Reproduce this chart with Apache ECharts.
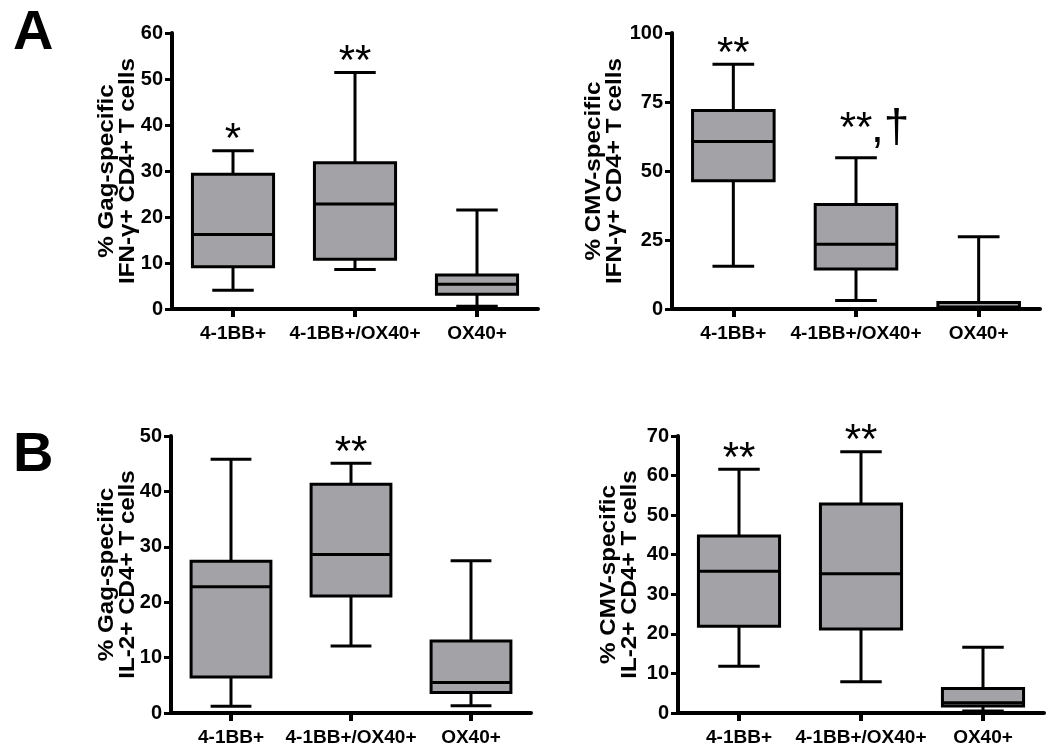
<!DOCTYPE html>
<html>
<head>
<meta charset="utf-8">
<script src="https://cdn.jsdelivr.net/npm/echarts@6/dist/echarts.min.js"></script>
<style>
html,body{margin:0;padding:0;background:#fff;}
#c{width:1050px;height:748px;}
</style>
</head>
<body>
<div id="c"></div>
<script>
// ---- data ----
const categories = ['4-1BB+', '4-1BB+/OX40+', 'OX40+'];
// [min, Q1, median, Q3, max]
const gagIfn = [[4.1, 9.2, 16.2, 29.3, 34.4], [8.6, 10.8, 22.8, 31.8, 51.4], [0.6, 3.2, 5.4, 7.4, 21.5]];
const cmvIfn = [[15.5, 46.5, 60.7, 71.9, 88.7], [3.1, 14.5, 23.5, 37.9, 54.8], [0, 0.2, 0.7, 2.4, 26.2]];
const gagIl2 = [[1.2, 6.5, 22.8, 27.4, 45.8], [12.1, 21.1, 28.6, 41.3, 45.1], [1.3, 3.7, 5.5, 13.0, 27.5]];
const cmvIl2 = [[11.8, 21.9, 35.8, 44.7, 61.6], [7.9, 21.2, 35.2, 52.8, 66.0], [0.5, 1.8, 2.6, 6.2, 16.6]];
const sigGagIfn = ['*', '**', ''];
const sigCmvIfn = ['**', '**,†', ''];
const sigGagIl2 = ['', '**', ''];
const sigCmvIl2 = ['**', '**', ''];
const yMaxes = [60, 100, 50, 70];
const yIntervals = [10, 25, 10, 10];
const yNameLine1 = ['% Gag-specific', '% CMV-specific', '% Gag-specific', '% CMV-specific'];
const yNameLine2 = ['IFN-γ+ CD4+ T cells', 'IFN-γ+ CD4+ T cells', 'IL-2+ CD4+ T cells', 'IL-2+ CD4+ T cells'];
const panelLetters = ['A', 'B'];

// ---- layout / style ----
const FONT = '"Liberation Sans", Arial, sans-serif';
const grids = [
  {left: 172, top: 33, width: 366, height: 276},
  {left: 672, top: 33, width: 368, height: 276},
  {left: 171, top: 436, width: 360, height: 277},
  {left: 678, top: 436, width: 366, height: 277}
];
const nameOffsets = [44, 57, 43, 48];
const panels = [gagIfn, cmvIfn, gagIl2, cmvIl2];
const sigs = [sigGagIfn, sigCmvIfn, sigGagIl2, sigCmvIl2];

const chart = echarts.init(document.getElementById('c'), null, {renderer: 'canvas'});

function renderBox(params, api, sigArr) {
  const xi = api.value(0);
  const mn = api.value(1), q1 = api.value(2), md = api.value(3), q3 = api.value(4), mx = api.value(5);
  const pMin = api.coord([xi, mn]);
  const pQ1 = api.coord([xi, q1]);
  const pMd = api.coord([xi, md]);
  const pQ3 = api.coord([xi, q3]);
  const pMx = api.coord([xi, mx]);
  const band = api.size([1, 0])[0];
  const cx = pMd[0];
  const bw = band * 0.665;
  const cw = band * 0.34;
  const lw = 3;
  const line = (x1, y1, x2, y2, w) => ({
    type: 'line', shape: {x1, y1, x2, y2},
    style: {stroke: '#000', lineWidth: w || lw}
  });
  const children = [
    line(cx, pQ3[1], cx, pMx[1]),
    line(cx, pQ1[1], cx, pMin[1]),
    line(cx - cw / 2, pMx[1], cx + cw / 2, pMx[1]),
    line(cx - cw / 2, pMin[1], cx + cw / 2, pMin[1]),
    {
      type: 'rect',
      shape: {x: cx - bw / 2, y: pQ3[1], width: bw, height: pQ1[1] - pQ3[1]},
      style: {fill: '#a3a3a7', stroke: '#000', lineWidth: 3}
    },
    line(cx - bw / 2, pMd[1], cx + bw / 2, pMd[1])
  ];
  const sig = sigArr[params.dataIndex];
  if (sig) {
    const parts = sig.split(',');
    const lift = parts.length > 1 ? 18 : 0;
    const ty = pMx[1] + 11 - lift;
    children.push({
      type: 'text',
      style: {
        text: parts[0], x: cx, y: ty,
        align: 'center', verticalAlign: 'bottom',
        font: '42px ' + FONT, fill: '#000'
      }
    });
    if (parts.length > 1) {
      children.push({
        type: 'text',
        style: {
          text: ',' + parts[1], x: cx + 15, y: ty + 2,
          align: 'left', verticalAlign: 'bottom',
          font: '46px ' + FONT, fill: '#000'
        }
      });
    }
  }
  return {type: 'group', children};
}

const xAxes = [], yAxes = [], series = [], graphics = [];
panels.forEach((p, i) => {
  xAxes.push({
    type: 'category', gridIndex: i, data: categories,
    axisLine: {lineStyle: {color: '#000', width: 4}},
    axisTick: {show: true, alignWithLabel: true, length: 8, lineStyle: {color: '#000', width: 4}},
    axisLabel: {interval: 0, color: '#000', fontFamily: FONT, fontWeight: 'bold', fontSize: 19, margin: 15},
    splitLine: {show: false}
  });
  yAxes.push({
    type: 'value', gridIndex: i, min: 0, max: yMaxes[i], interval: yIntervals[i],
    axisLine: {show: true, lineStyle: {color: '#000', width: 4}},
    axisTick: {show: true, length: 7, lineStyle: {color: '#000', width: 3}},
    axisLabel: {color: '#000', fontFamily: FONT, fontWeight: 'bold', fontSize: 20, margin: 9},
    splitLine: {show: false}
  });
  const sigArr = sigs[i];
  series.push({
    type: 'custom', xAxisIndex: i, yAxisIndex: i,
    data: p.map((d, k) => [k].concat(d)),
    encode: {x: 0, y: [1, 2, 3, 4, 5]},
    renderItem: function (params, api) {
      return renderBox(params, api, sigArr);
    },
    clip: false,
    silent: true
  });
  const g = grids[i];
  const yc = g.top + g.height / 2;
  const x2 = g.left - nameOffsets[i];
  [[yNameLine1[i], x2 - 21], [yNameLine2[i], x2]].forEach(([t, x]) => {
    graphics.push({
      type: 'text', x: x, y: yc, rotation: Math.PI / 2, scaleX: 1.1,
      style: {text: t, align: 'center', verticalAlign: 'middle', font: 'bold 22px ' + FONT, fill: '#000'}
    });
  });
});

graphics.push(
  {type: 'text', left: 13, top: 6, style: {text: panelLetters[0], font: 'bold 56px ' + FONT, fill: '#000'}},
  {type: 'text', left: 13, top: 428, style: {text: panelLetters[1], font: 'bold 56px ' + FONT, fill: '#000'}}
);

chart.setOption({
  animation: false,
  backgroundColor: '#fff',
  grid: grids.map(g => Object.assign({containLabel: false}, g)),
  xAxis: xAxes,
  yAxis: yAxes,
  series: series,
  graphic: graphics
});
</script>
</body>
</html>
